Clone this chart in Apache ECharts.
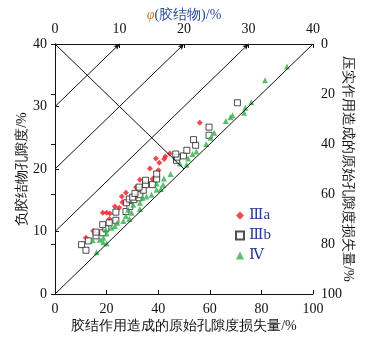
<!DOCTYPE html>
<html>
<head>
<meta charset="utf-8">
<script src="https://cdn.jsdelivr.net/npm/echarts@6/dist/echarts.min.js"></script>
<style>
html, body { margin: 0; padding: 0; background: #fff; }
#main { width: 376px; height: 338px; }
</style>
</head>
<body>
<div id="main"></div>
<script>
var dom = document.getElementById("main");
var myChart = echarts.init(dom);

// [胶结作用造成的原始孔隙度损失量, 负胶结物孔隙度]
var iiiA = [
	[12.0, 9.0], [14.8, 10.1], [18.5, 13.0], [20.0, 13.0], [21.3, 12.9], [21.1, 12.0],
	[23.2, 14.0], [24.9, 13.8], [25.9, 15.6], [26.1, 14.7], [27.5, 16.2], [31.4, 17.1],
	[32.9, 18.3], [37.8, 18.4], [40.1, 19.8], [36.8, 20.1], [40.4, 21.0], [39.1, 21.7],
	[42.3, 21.6], [42.8, 22.0], [44.5, 22.5], [56.1, 27.4]
];
var iiiB = [
	[10.3, 7.9], [12.0, 7.0], [12.9, 8.5], [15.9, 9.3], [15.9, 9.9], [18.5, 9.8],
	[19.7, 10.5], [18.5, 11.1], [21.0, 11.4], [23.6, 11.8], [23.6, 13.1], [27.5, 13.2],
	[29.0, 14.0], [27.7, 14.6], [28.8, 15.2], [30.6, 15.1], [30.1, 15.5], [32.6, 15.4],
	[32.9, 15.9], [31.0, 16.1], [34.2, 16.6], [32.6, 17.1], [35.1, 17.5], [37.8, 17.5],
	[35.1, 18.2], [39.4, 18.4], [39.4, 19.2], [47.1, 21.4], [47.4, 21.9], [46.8, 22.4],
	[49.8, 22.1], [51.1, 23.0], [54.5, 23.8], [53.7, 24.7], [59.7, 25.4], [59.7, 26.7],
	[70.7, 30.6]
];
var iv = [
	[16.1, 6.7], [14.6, 8.6], [18.7, 8.3], [17.4, 8.7], [20.0, 8.1], [18.7, 9.0],
	[20.0, 9.7], [19.7, 10.3], [21.9, 10.6], [23.2, 10.9], [24.1, 11.4], [26.5, 11.7],
	[28.8, 12.0], [27.5, 12.5], [29.7, 13.0], [28.4, 13.5], [32.9, 13.6], [30.3, 14.3],
	[32.9, 14.6], [33.9, 15.4], [35.5, 15.6], [37.4, 15.9], [39.4, 16.7], [41.0, 16.8],
	[41.9, 17.5], [39.4, 17.7], [42.2, 18.5], [44.8, 19.2], [48.4, 20.9], [51.0, 20.7],
	[51.6, 21.7], [53.3, 22.4], [54.8, 22.8], [58.6, 24.0], [60.3, 25.0], [61.7, 25.8],
	[66.2, 27.7], [68.0, 28.3], [68.8, 28.6], [73.3, 29.0], [73.8, 29.8], [76.1, 30.7],
	[81.4, 34.2], [89.9, 36.4]
];

// guide lines: [start, end, arrow at end]
var guideLines = [
	[[0, 0], [100, 40], false],
	[[0, 10], [75, 40], true],
	[[0, 20], [50, 40], true],
	[[0, 30], [25, 40], true],
	[[0, 40], [50, 20], false]
];

var serif = 'Times New Roman, Liberation Serif, DejaVu Serif, serif';
var axisStyle = {
	axisLine: { show: true, lineStyle: { color: '#111', width: 1 } },
	axisTick: { show: true, inside: true, length: 4, lineStyle: { color: '#111' } },
	axisLabel: { color: '#111', fontFamily: serif, fontSize: 14 },
	splitLine: { show: false },
	nameMoveOverlap: false,
	nameTextStyle: { color: '#111', fontFamily: serif, fontSize: 14 }
};

function ax(extra) {
	return Object.assign({}, JSON.parse(JSON.stringify(axisStyle)), extra);
}

var lineData = guideLines.map(function (g) {
	return [
		{ coord: g[0], symbol: 'none' },
		{ coord: g[1], symbol: g[2] ? 'arrow' : 'none', symbolSize: [4, 6] }
	];
});

option = {
	animation: false,
	textStyle: { fontFamily: serif },
	grid: { left: 55, right: 63, top: 44, bottom: 43 },
	legend: {
		orient: 'vertical',
		left: 230,
		top: 203,
		itemWidth: 8,
		itemHeight: 8,
		itemGap: 5,
		textStyle: { color: '#2a3a8c', fontFamily: serif, fontSize: 15 },
		data: ['Ⅲa', 'Ⅲb', 'Ⅳ']
	},
	xAxis: [
		ax({
			type: 'value', min: 0, max: 100, interval: 20, position: 'bottom',
			name: '胶结作用造成的原始孔隙度损失量/%', nameLocation: 'middle', nameGap: 25
		}),
		ax({
			type: 'value', min: 0, max: 40, interval: 10, position: 'top',
			name: '{p|φ}(胶结物)/%', nameLocation: 'middle', nameGap: 22,
			nameTextStyle: {
				color: '#2a4a9c', fontFamily: serif, fontSize: 14,
				rich: { p: { color: '#c07a20', fontStyle: 'italic', fontFamily: serif, fontSize: 14 } }
			}
		})
	],
	yAxis: [
		ax({
			type: 'value', min: 0, max: 40, interval: 10, position: 'left',
			name: '负胶结物孔隙度/%', nameLocation: 'middle', nameGap: 26
		}),
		ax({
			type: 'value', min: 0, max: 100, interval: 20, position: 'right', inverse: true,
			name: '压实作用造成的原始孔隙度损失量/%', nameLocation: 'middle', nameGap: 28, nameRotate: -90
		})
	],
	series: [
		{
			type: 'line',
			xAxisIndex: 0,
			yAxisIndex: 0,
			data: [],
			silent: true,
			markLine: {
				silent: true,
				animation: false,
				label: { show: false },
				lineStyle: { color: '#111', width: 1, type: 'solid' },
				emphasis: { disabled: true },
				data: lineData
			}
		},
		{
			name: 'Ⅲa',
			type: 'scatter',
			symbol: 'diamond',
			symbolSize: 6,
			itemStyle: { color: '#ee1c24' },
			data: iiiA
		},
		{
			name: 'Ⅲb',
			type: 'scatter',
			symbol: 'rect',
			symbolSize: 6,
			itemStyle: { color: '#fff', borderColor: '#222', borderWidth: 1 },
			data: iiiB
		},
		{
			name: 'Ⅳ',
			type: 'scatter',
			symbol: 'triangle',
			symbolSize: 6,
			itemStyle: { color: '#2eb048' },
			data: iv
		}
	]
};
if (option && typeof option === "object") {
	myChart.setOption(option, true);
}
</script>
</body>
</html>
